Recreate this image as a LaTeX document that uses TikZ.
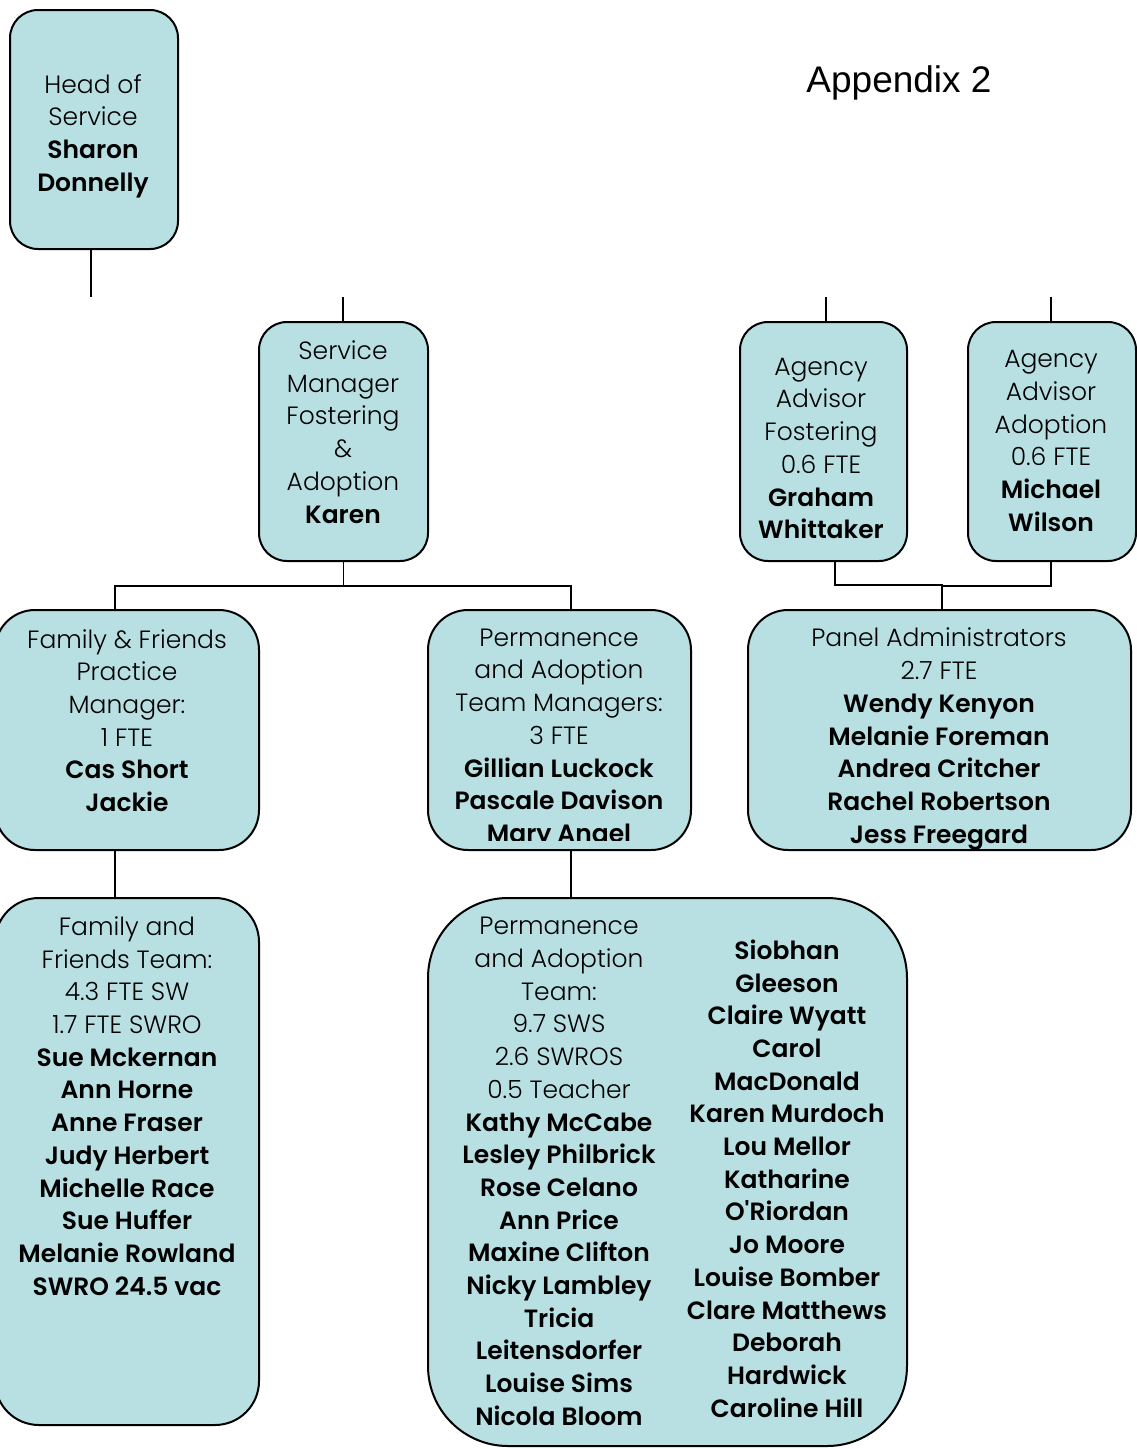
\documentclass[tikz,border=0pt]{standalone}
\usepackage{fontspec}
\usetikzlibrary{calc}
\newfontfamily\gothic{Poppins}[UprightFont=* Light, BoldFont=* SemiBold]
\newfontfamily\arialfont{Liberation Sans}
\definecolor{boxfill}{RGB}{184,224,227}

\tikzset{
  box/.style={draw, line width=2pt, fill=boxfill, rounded corners=#1, inner sep=0pt},
  box/.default=30pt,
  txt/.style={align=center, inner sep=0pt, font=\gothic\fontsize{25}{32.7}\selectfont},
  link/.style={line width=1.8pt}
}

\begin{document}
\begin{tikzpicture}[x=1pt, y=-1pt]

\useasboundingbox (0,0) rectangle (1137,1449);

% Title
\node[font=\arialfont\fontsize{37}{40}\selectfont] (appx) at (899,83) {Appendix 2};

% Boxes
\node[box=28pt, minimum width=168pt, minimum height=239pt] (head) at (94,129.5) {};
\node[box=28pt, minimum width=169pt, minimum height=239pt] (svc) at (343.5,441.5) {};
\node[box=28pt, minimum width=167pt, minimum height=239pt] (agfost) at (823.5,441.5) {};
\node[box=28pt, minimum width=168pt, minimum height=239pt] (agadopt) at (1052,441.5) {};
\node[box=40pt, minimum width=264pt, minimum height=240pt] (ffpm) at (127,730) {};
\node[box=40pt, minimum width=263pt, minimum height=240pt] (ptm) at (559.5,730) {};
\node[box=40pt, minimum width=383pt, minimum height=240pt] (panel) at (939.5,730) {};
\node[box=44pt, minimum width=264pt, minimum height=527pt] (fft) at (127,1161.5) {};
\node[box=80pt, minimum width=479pt, minimum height=548pt] (pt) at (667.5,1172) {};

% Texts
\node[txt] (headT) at (93,136) {Head of\\Service\\\textbf{Sharon}\\\textbf{Donnelly}};
\node[txt] (svcT) at (343,432) {Service\\Manager\\Fostering\\\&\\Adoption\\\textbf{Karen}};
\node[txt] (agfostT) at (821,448.5) {Agency\\Advisor\\Fostering\\0.6 FTE\\\textbf{Graham}\\\textbf{Whittaker}};
\node[txt] (agadoptT) at (1051,441) {Agency\\Advisor\\Adoption\\0.6 FTE\\\textbf{Michael}\\\textbf{Wilson}};
\node[txt] (ffpmT) at (127,720.5) {Family \& Friends\\Practice\\Manager:\\1 FTE\\\textbf{Cas Short}\\\textbf{Jackie}};
\begin{scope}
  \clip[rounded corners=40pt] (429,611) rectangle (690,840);
  \node[txt] (ptmT) at (559,739) {Permanence\\and Adoption\\Team Managers:\\3 FTE\\\textbf{Gillian Luckock}\\\textbf{Pascale Davison}\\\textbf{Mary Angel}};
\end{scope}
\node[txt] (panelT) at (939,739) {Panel Administrators\\2.7 FTE\\\textbf{Wendy Kenyon}\\\textbf{Melanie Foreman}\\\textbf{Andrea Critcher}\\\textbf{Rachel Robertson}\\\textbf{Jess Freegard}};
\node[txt] (fftT) at (127,1106) {Family and\\Friends Team:\\4.3 FTE SW\\1.7 FTE SWRO\\\textbf{Sue Mckernan}\\\textbf{Ann Horne}\\\textbf{Anne Fraser}\\\textbf{Judy Herbert}\\\textbf{Michelle Race}\\\textbf{Sue Huffer}\\\textbf{Melanie Rowland}\\\textbf{SWRO 24.5 vac}};
\node[txt] (ptLeftT) at (559,1171.5) {Permanence\\and Adoption\\Team:\\9.7 SWS\\2.6 SWROS\\0.5 Teacher\\\textbf{Kathy McCabe}\\\textbf{Lesley Philbrick}\\\textbf{Rose Celano}\\\textbf{Ann Price}\\\textbf{Maxine Clifton}\\\textbf{Nicky Lambley}\\\textbf{Tricia}\\\textbf{Leitensdorfer}\\\textbf{Louise Sims}\\\textbf{Nicola Bloom}};
\node[txt] (ptRightT) at (787,1178.5) {\textbf{Siobhan}\\\textbf{Gleeson}\\\textbf{Claire Wyatt}\\\textbf{Carol}\\\textbf{MacDonald}\\\textbf{Karen Murdoch}\\\textbf{Lou Mellor}\\\textbf{Katharine}\\\textbf{O'Riordan}\\\textbf{Jo Moore}\\\textbf{Louise Bomber}\\\textbf{Clare Matthews}\\\textbf{Deborah}\\\textbf{Hardwick}\\\textbf{Caroline Hill}};

% Free line ends
\coordinate (headEnd) at (91,297);
\coordinate (svcTop) at (343,297);
\coordinate (agfostTop) at (826,297);
\coordinate (agadoptTop) at (1051,297);
\coordinate (ffpmIn) at (115,610);
\coordinate (ptmIn) at (571,610);
\coordinate (agfostOut) at (835,561);
\coordinate (panelIn) at (942,610);
\coordinate (fftIn) at (115,898);
\coordinate (ptIn) at (571,898);

% Connectors
\draw[link] (head.south -| headEnd) -- (headEnd);
\draw[link] (svcTop) -- (svcTop |- svc.north);
\draw[link] (agfostTop) -- (agfostTop |- agfost.north);
\draw[link] (agadoptTop) -- (agadoptTop |- agadopt.north);
\draw[link] (svc.south) -- ++(0,24) -| (ffpmIn);
\draw[link] (svc.south) -- ++(0,24) -| (ptmIn);
\draw[link] (agfostOut) -- ++(0,24) -| (panelIn);
\draw[link] (agadoptTop |- agadopt.south) -- ++(0,24) -| (panelIn);
\draw[link] (fftIn |- ffpm.south) -- (fftIn);
\draw[link] (ptIn |- ptm.south) -- (ptIn);

\end{tikzpicture}
\end{document}
